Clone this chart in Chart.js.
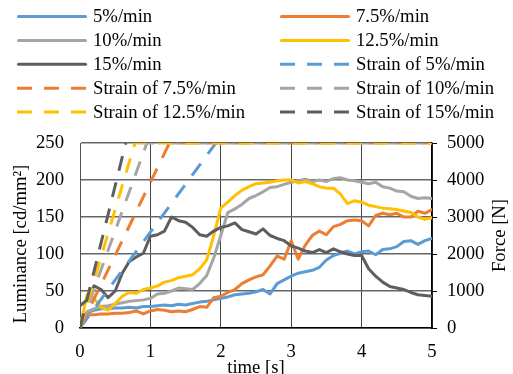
<!DOCTYPE html>
<html>
<head>
<meta charset="utf-8">
<script src="https://cdn.jsdelivr.net/npm/chart.js@4.4.0/dist/chart.umd.min.js"></script>
<style>
  html, body { margin: 0; padding: 0; background: #fff; }
  #wrap { width: 513px; height: 374px; }
</style>
</head>
<body>
<div id="wrap"><canvas id="chart" width="513" height="374"></canvas></div>
<script>
// time axis [s]
const time = [0, 0.1, 0.2, 0.3, 0.4, 0.5, 0.6, 0.7, 0.8, 0.9,
  1, 1.1, 1.2, 1.3, 1.4, 1.5, 1.6, 1.7, 1.8, 1.9,
  2, 2.1, 2.2, 2.3, 2.4, 2.5, 2.6, 2.7, 2.8, 2.9,
  3, 3.1, 3.2, 3.3, 3.4, 3.5, 3.6, 3.7, 3.8, 3.9,
  4, 4.1, 4.2, 4.3, 4.4, 4.5, 4.6, 4.7, 4.8, 4.9, 5];

// luminance [cd/mm2] per strain rate
const lum5 = [12, 20, 24, 26, 26, 27, 27, 28, 27, 29,
  29, 30, 31, 30, 32, 31, 33, 35, 36, 38,
  40, 42, 45, 46, 47, 49, 52, 46, 60, 65,
  70, 74, 76, 78, 82, 92, 98, 101, 104, 100,
  103, 104, 99, 106, 107, 110, 117, 118, 113, 118, 121];
const lum75 = [5, 18, 18, 19, 19, 20, 20, 21, 23, 19,
  23, 25, 24, 22, 23, 22, 25, 29, 28, 41,
  43, 48, 52, 60, 65, 69, 72, 84, 97, 93,
  118, 93, 112, 125, 131, 126, 137, 140, 145, 146,
  145, 138, 152, 155, 153, 155, 150, 150, 158, 155, 160];
const lum10 = [8, 22, 26, 29, 30, 32, 34, 36, 37, 38,
  40, 46, 47, 50, 54, 53, 52, 60, 71, 95,
  125, 156, 161, 167, 175, 179, 184, 190, 191, 194,
  197, 199, 201, 198, 200, 198, 202, 203, 200, 199,
  197, 195, 197, 191, 189, 185, 184, 178, 175, 176, 175];
const lum125 = [0, 45, 40, 28, 24, 33, 43, 48, 47, 52,
  54, 57, 62, 64, 68, 70, 72, 80, 92, 125,
  162, 170, 179, 186, 191, 195, 196, 197, 199, 200,
  200, 196, 198, 195, 191, 189, 189, 181, 168, 172,
  170, 166, 164, 162, 161, 160, 158, 156, 150, 147, 149];
const lum15 = [30, 38, 57, 52, 41, 50, 74, 90, 96, 101,
  124, 126, 131, 150, 145, 143, 136, 126, 124, 131,
  136, 138, 142, 133, 130, 127, 134, 125, 121, 118,
  111, 108, 104, 102, 106, 102, 107, 103, 100, 98,
  98, 80, 70, 62, 56, 54, 52, 48, 45, 44, 43];

// strain curves (capped at top of scale)
const strainT5 = [0, 1.93];
const strainV5 = [0, 250];
const strainT75 = [0, 1.27, 5];
const strainV75 = [0, 250, 250];
const strainT10 = [0, 0.95, 5];
const strainV10 = [0, 250, 250];
const strainT125 = [0, 0.78, 5];
const strainV125 = [0, 250, 250];
const strainT15 = [0, 0.65];
const strainV15 = [0, 250];

const FONT = '"Liberation Serif", "Times New Roman", serif';
const FS = 18.7;

function pts(xs, ys) {
  return xs.map((x, i) => ({ x: x, y: ys[i] }));
}

function solid(label, color, xs, ys, i) {
  return {
    label: label, data: pts(xs, ys), borderColor: color, backgroundColor: color,
    borderWidth: 3, pointRadius: 0, tension: 0, borderJoinStyle: 'round',
    borderCapStyle: 'round', order: -i
  };
}
function dashed(label, color, xs, ys, i) {
  return {
    label: label, data: pts(xs, ys), borderColor: color, backgroundColor: color,
    borderWidth: 3, pointRadius: 0, tension: 0, borderDash: [15, 12],
    borderCapStyle: 'butt', order: -i
  };
}

// two-column legend like the excel one, plus both vertical axis titles
const legendPlugin = {
  id: 'twoColLegend',
  afterDraw(chart) {
    const ctx = chart.ctx;
    ctx.save();
    ctx.font = FS + 'px ' + FONT;
    ctx.textBaseline = 'middle';
    ctx.fillStyle = '#000';
    chart.data.datasets.forEach((ds, i) => {
      const col = i % 2;
      const row = Math.floor(i / 2);
      const x = col === 0 ? 17 : 280;
      const y = 16.5 + row * 23.9;
      ctx.beginPath();
      ctx.lineWidth = ds.borderWidth;
      ctx.strokeStyle = ds.borderColor;
      if (ds.borderDash) {
        ctx.setLineDash(ds.borderDash);
        ctx.lineCap = 'butt';
        ctx.moveTo(x, y);
        ctx.lineTo(x + 70, y);
      } else {
        ctx.setLineDash([]);
        ctx.lineCap = 'round';
        ctx.moveTo(x + 1.5, y);
        ctx.lineTo(x + 68.5, y);
      }
      ctx.stroke();
      ctx.setLineDash([]);
      ctx.fillText(ds.label, x + 76, y + 1);
    });
    const area = chart.chartArea;
    ctx.textAlign = 'center';
    ctx.save();
    ctx.translate(21, 244);
    ctx.rotate(-Math.PI / 2);
    ctx.fillText('Luminance [cd/mm²]', 0, 0);
    ctx.restore();
    ctx.translate(500, (area.top + area.bottom) / 2);
    ctx.rotate(-Math.PI / 2);
    ctx.fillText('Force [N]', 0, 0);
    ctx.restore();
  }
};

Chart.defaults.font.family = FONT;
Chart.defaults.font.size = FS;
Chart.defaults.color = '#000';

new Chart(document.getElementById('chart'), {
  type: 'line',
  data: {
    datasets: [
      solid('5%/min', '#5B9BD5', time, lum5, 0),
      solid('7.5%/min', '#ED7D31', time, lum75, 1),
      solid('10%/min', '#A5A5A5', time, lum10, 2),
      solid('12.5%/min', '#FFC000', time, lum125, 3),
      solid('15%/min', '#5E5E5E', time, lum15, 4),
      dashed('Strain of 5%/min', '#5B9BD5', strainT5, strainV5, 5),
      dashed('Strain of 7.5%/min', '#ED7D31', strainT75, strainV75, 6),
      dashed('Strain of 10%/min', '#A5A5A5', strainT10, strainV10, 7),
      dashed('Strain of 12.5%/min', '#FFC000', strainT125, strainV125, 8),
      dashed('Strain of 15%/min', '#5E5E5E', strainT15, strainV15, 9)
    ]
  },
  options: {
    responsive: false,
    animation: false,
    layout: { padding: { top: 143, left: 0, right: 0, bottom: 0 } },
    plugins: { legend: { display: false }, tooltip: { enabled: false } },
    scales: {
      x: {
        type: 'linear', min: 0, max: 5,
        ticks: { stepSize: 1, padding: 13 },
        grid: { color: '#444', lineWidth: 1, drawTicks: false },
        border: { color: '#000', width: 1.5 },
        title: { display: true, text: 'time [s]', padding: { top: 0, bottom: 0 }, font: { lineHeight: 0.6 } },
        afterFit: (scale) => { scale.height = 46; }
      },
      y: {
        type: 'linear', position: 'left', min: 0, max: 250,
        ticks: { stepSize: 25, padding: 16, callback: (v) => (v % 50 === 0 ? String(v) : '') },
        grid: {
          drawTicks: false, lineWidth: 1.5,
          color: (c) => (c.tick && c.tick.value % 50 === 0 ? '#666' : '#c8c8c8')
        },
        border: { color: '#555', width: 1 },
        afterFit: (scale) => { scale.width = 80; }
      },
      y1: {
        type: 'linear', position: 'right', min: 0, max: 5000,
        ticks: { stepSize: 1000, padding: 10, callback: (v) => String(v) },
        grid: { drawOnChartArea: false, drawTicks: true, tickLength: 5, color: '#000' },
        border: { color: '#000', width: 1.5 },
        afterFit: (scale) => { scale.width = 81; }
      }
    }
  },
  plugins: [legendPlugin]
});
</script>
</body>
</html>
